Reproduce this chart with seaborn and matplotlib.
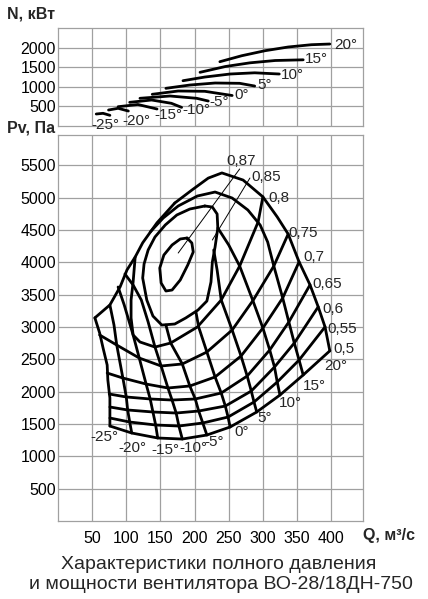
import matplotlib
matplotlib.use('Agg')
import matplotlib.pyplot as plt
import seaborn as sns

# blade angles
angles = ['-25°', '-20°', '-15°', '-10°', '-5°', '0°', '5°', '10°', '15°', '20°']

# top panel: shaft power N (kW) vs Q (m3/s), one curve per angle
power_q = [[56, 66, 76], [74, 88, 103], [88, 117, 145], [105, 137, 166, 181],
           [120, 164, 203, 220], [138, 176, 215, 255], [158, 193, 230, 266, 288],
           [183, 215, 252, 288, 324], [208, 245, 281, 318, 359],
           [237, 269, 303, 337, 371, 398]]
power_n = [[299, 317, 265], [402, 446, 376], [487, 544, 428], [600, 660, 575, 470],
           [704, 763, 704, 634], [807, 892, 884, 776], [961, 1046, 1098, 1090, 1020],
           [1157, 1252, 1330, 1361, 1330], [1374, 1523, 1618, 1678, 1696],
           [1647, 1801, 1930, 2026, 2085, 2103]]
power_lab_q = [49, 94, 141, 182, 221, 258, 292, 327, 361, 405]
power_lab_n = [15, 126, 273, 402, 616, 789, 1046, 1304, 1709, 2077]

# bottom panel: total pressure Pv (Pa) vs Q, one curve per angle
pres_q = [[54, 61, 66, 72, 73, 76, 76],
          [76, 82, 86, 95, 100, 102, 105, 108],
          [88, 97, 110, 119, 129, 135, 139, 143, 146],
          [98, 110, 122, 132, 142, 151, 161, 167, 173, 177, 182],
          [158, 165, 182, 193, 201, 206, 212, 218],
          [202, 206, 218, 230, 239, 245, 249, 252],
          [228, 233, 239, 255, 268, 277, 283, 287, 291],
          [234, 250, 266, 285, 300, 310, 317, 321, 325],
          [135, 154, 176, 204, 230, 255, 278, 296, 307, 316, 329, 338, 346, 353, 359],
          [171, 196, 220, 240, 271, 300, 321, 337, 353, 369, 381, 391, 398]]
pres_p = [[3140, 2906, 2674, 2411, 2179, 1901, 1468],
          [3338, 3029, 2720, 2210, 1917, 1716, 1530, 1360],
          [3617, 3338, 2875, 2519, 2117, 1886, 1685, 1484, 1283],
          [3818, 3648, 3416, 3076, 2689, 2396, 2056, 1870, 1669, 1468, 1267],
          [3029, 2751, 2427, 2087, 1886, 1700, 1515, 1329],
          [3230, 2998, 2612, 2226, 1978, 1777, 1607, 1453],
          [4189, 3879, 3416, 2952, 2550, 2241, 2009, 1839, 1685],
          [4529, 4266, 3941, 3416, 2983, 2643, 2380, 2148, 1947],
          [4467, 4683, 4869, 5023, 5085, 4992, 4807, 4575, 4312, 3941, 3447, 3076, 2751, 2488, 2257],
          [4915, 5115, 5300, 5380, 5270, 5010, 4700, 4435, 4005, 3650, 3310, 3000, 2630]]
pres_lab_q = [48, 89, 136, 177, 214, 258, 292, 324, 358, 390]
pres_lab_p = [1303, 1128, 1097, 1128, 1226, 1380, 1592, 1824, 2091, 2396]

# stall boundary
stall_q = [54, 76, 91, 101, 113, 124, 145, 171]
stall_p = [3140, 3340, 3620, 3880, 4080, 4300, 4610, 4915]

# efficiency lines
eta_labels = ['0,5', '0,55', '0,6', '0,65', '0,7', '0,75', '0,8']
eta_q = [[398, 359, 325, 291, 252, 218, 182, 146, 108, 76],
         [391, 353, 321, 287, 249, 212, 177, 143, 105, 76],
         [381, 346, 317, 283, 245, 206, 173, 139, 102, 76],
         [369, 338, 310, 277, 239, 201, 167, 135, 100, 75],
         [353, 329, 300, 268, 230, 193, 161, 129, 95, 72],
         [337, 316, 286, 255, 218, 182, 151, 119, 86, 61],
         [300, 293, 266, 239, 204, 165, 142, 120, 110, 107, 107, 110, 113]]
eta_p = [[2630, 2257, 1947, 1685, 1453, 1329, 1267, 1283, 1360, 1468],
         [3000, 2488, 2148, 1839, 1607, 1515, 1468, 1484, 1530, 1592],
         [3310, 2751, 2380, 2009, 1777, 1700, 1669, 1685, 1716, 1762],
         [3650, 3076, 2643, 2241, 1978, 1886, 1870, 1886, 1917, 1963],
         [4005, 3447, 2983, 2550, 2226, 2087, 2056, 2117, 2210, 2287],
         [4435, 3941, 3416, 2952, 2612, 2427, 2396, 2519, 2720, 2875],
         [5010, 4621, 3941, 3416, 2998, 2751, 2689, 2767, 2875, 3138, 3416, 3694, 4080]]
eta_lab_q = [403, 394, 387, 373, 359, 337, 308]
eta_lab_p = [2658, 2968, 3277, 3663, 4080, 4456, 4997]

# closed islands 0.85 and 0.87
eta85_q = [215, 193, 174, 157, 142, 132, 126, 124, 130, 139, 152, 171, 187, 205, 218,
           224, 226, 230, 234, 233, 226, 215]
eta85_p = [4869, 4822, 4730, 4575, 4390, 4189, 3972, 3756, 3416, 3168, 3029, 3045, 3138,
           3261, 3400, 3694, 4003, 4235, 4529, 4745, 4853, 4869]
eta87_q = [189, 196, 198, 190, 179, 167, 158, 151, 149, 155, 167, 179, 189]
eta87_p = [4374, 4297, 4158, 3957, 3725, 3570, 3555, 3679, 3910, 4111, 4266, 4359, 4374]
lead87_q = [266, 176]
lead87_p = [5441, 4142]
lead85_q = [281, 226]
lead85_p = [5301, 4343]

q_ticks = [50, 100, 150, 200, 250, 300, 350, 400]
n_ticks = [500, 1000, 1500, 2000]
p_ticks = [500, 1000, 1500, 2000, 2500, 3000, 3500, 4000, 4500, 5000, 5500]

sns.set_theme(style='white')
plt.rcParams['font.family'] = ['Liberation Sans', 'DejaVu Sans']

fig = plt.figure(figsize=(4.28, 5.99), dpi=100)
ax_n = fig.add_axes([0.1355, 0.7903, 0.7133, 0.1629])
ax_p = fig.add_axes([0.1355, 0.1302, 0.7133, 0.6444])

grid_c = '#a0a0a0'
lw = 2.0
lab_fs = 11
for ax in (ax_n, ax_p):
    ax.set_xlim(0, 447)
    ax.set_xticks(q_ticks)
    ax.grid(True, color=grid_c, lw=0.9)
    ax.set_axisbelow(True)
    for s in ax.spines.values():
        s.set_color(grid_c)
        s.set_linewidth(0.9)
    ax.tick_params(length=0, labelsize=11.5, colors='black')

ax_n.set_ylim(0, 2515)
ax_n.set_yticks(n_ticks)
ax_n.set_xticklabels([])
ax_n.tick_params(axis='y', pad=1.5)
ax_p.set_ylim(0, 5966)
ax_p.set_yticks(p_ticks)
ax_p.tick_params(axis='y', pad=1.5)
ax_p.tick_params(axis='x', pad=7)

# power curves
for q, n, a, lq, ln in zip(power_q, power_n, angles, power_lab_q, power_lab_n):
    sns.lineplot(x=q, y=n, ax=ax_n, sort=False, estimator=None, color='black', lw=lw)
    ax_n.text(lq, ln, a, fontsize=lab_fs, ha='left', va='center')

# pressure curves
sns.lineplot(x=stall_q, y=stall_p, ax=ax_p, sort=False, estimator=None, color='black', lw=lw)
for q, p, a, lq, lp in zip(pres_q, pres_p, angles, pres_lab_q, pres_lab_p):
    sns.lineplot(x=q, y=p, ax=ax_p, sort=False, estimator=None, color='black', lw=lw)
    ax_p.text(lq, lp, a, fontsize=lab_fs, ha='left', va='center')

# efficiency
for q, p, e, lq, lp in zip(eta_q, eta_p, eta_labels, eta_lab_q, eta_lab_p):
    sns.lineplot(x=q, y=p, ax=ax_p, sort=False, estimator=None, color='black', lw=lw)
    ax_p.text(lq, lp, e, fontsize=lab_fs, ha='left', va='center')
sns.lineplot(x=eta85_q, y=eta85_p, ax=ax_p, sort=False, estimator=None, color='black', lw=lw)
sns.lineplot(x=eta87_q, y=eta87_p, ax=ax_p, sort=False, estimator=None, color='black', lw=lw)
sns.lineplot(x=lead87_q, y=lead87_p, ax=ax_p, sort=False, estimator=None, color='black', lw=0.7)
sns.lineplot(x=lead85_q, y=lead85_p, ax=ax_p, sort=False, estimator=None, color='black', lw=0.7)
ax_p.text(246, 5569, '0,87', fontsize=lab_fs, ha='left', va='center')
ax_p.text(283, 5322, '0,85', fontsize=lab_fs, ha='left', va='center')

for ax in (ax_n, ax_p):
    ax.set_xlabel('')
    ax.set_ylabel('')

fig.text(0.016, 0.9766, 'N, кВт', fontsize=11.5, fontweight='bold', ha='left', va='center')
fig.text(0.016, 0.7858, 'Pv, Па', fontsize=11.5, fontweight='bold', ha='left', va='center')
fig.text(0.848, 0.1057, 'Q, м³/с', fontsize=11.5, fontweight='bold', ha='left', va='center')
fig.text(0.512, 0.0584, 'Характеристики полного давления', fontsize=14, ha='center', va='center')
fig.text(0.516, 0.025, 'и мощности вентилятора ВО-28/18ДН-750', fontsize=14, ha='center', va='center')

fig.savefig('out.png', dpi=100)
